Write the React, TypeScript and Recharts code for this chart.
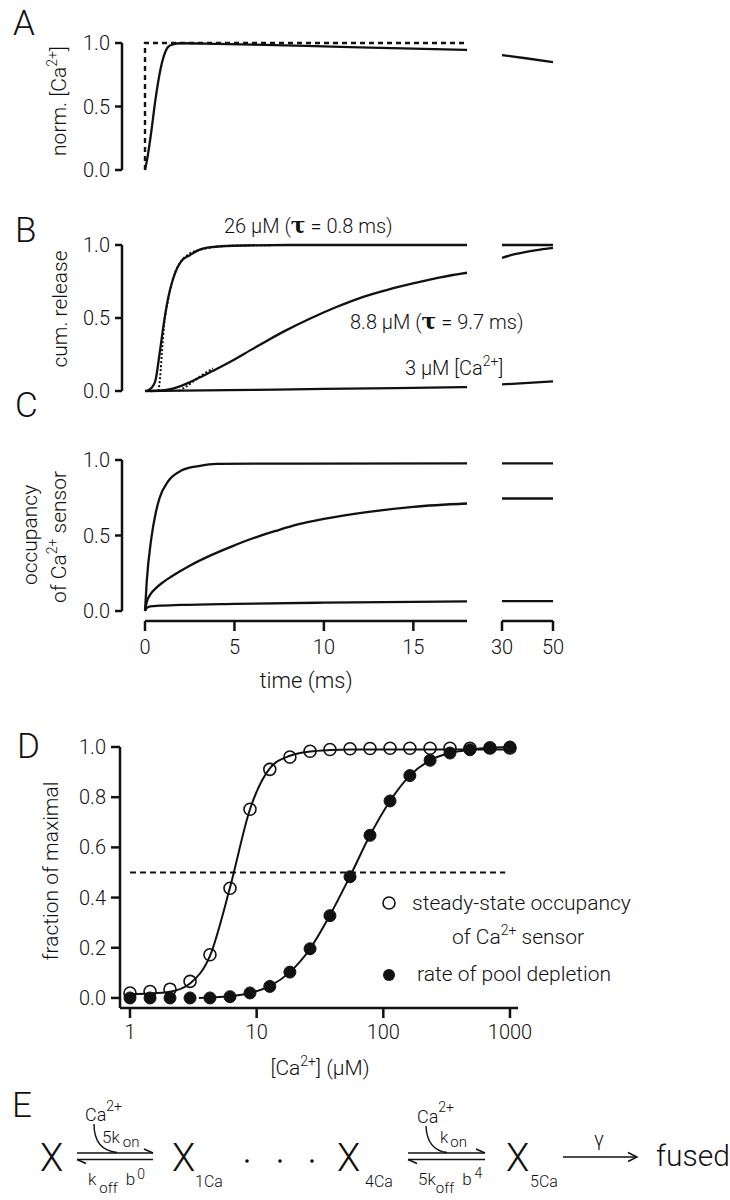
import React from "react";
import { LineChart, Line, XAxis, YAxis } from "recharts";

const W = 730;
const H = 1200;
const FONT = "Roboto, 'Liberation Sans', Arial, sans-serif";
const INK = "#111";

// ---------- A: normalised [Ca2+]
const aStepT = [0, 0, 18];
const aStepV = [0, 1, 1];
const aT = [0, 0.14, 0.34, 0.58, 0.82, 1.06, 1.3, 1.55, 2, 4, 6, 9, 12, 15, 18];
const aV = [0, 0.1, 0.29, 0.55, 0.76, 0.9, 0.97, 0.99, 0.998, 0.993, 0.987, 0.977, 0.966, 0.955, 0.945];
const aBreakT = [30, 40, 50];
const aBreakV = [0.905, 0.878, 0.85];

// ---------- B: cumulative release
const b26T = [0.1, 0.35, 0.58, 0.82, 1.06, 1.3, 1.55, 1.79, 2.03, 2.5, 3, 3.7, 4.9, 8, 18];
const b26V = [0, 0.02, 0.07, 0.26, 0.47, 0.64, 0.76, 0.84, 0.89, 0.93, 0.965, 0.985, 0.995, 1, 1];
const b26FitT = [0.75, 0.85, 0.95, 1.06, 1.3, 1.55, 2.03, 3, 4.9, 8];
const b26FitV = [0, 0.1, 0.27, 0.44, 0.63, 0.76, 0.89, 0.965, 0.995, 1];
const b88T = [0.3, 1, 1.55, 2.03, 2.5, 3.26, 4, 5, 5.9, 6.9, 7.8, 9.3, 10.7, 12.2, 13.6, 15.1, 16.5, 18];
const b88V = [0, 0.004, 0.016, 0.035, 0.06, 0.105, 0.15, 0.215, 0.28, 0.35, 0.41, 0.5, 0.575, 0.645, 0.695, 0.74, 0.778, 0.81];
const b88FitT = [1.9, 2.3, 2.7, 3.2, 3.8];
const b88FitV = [0, 0.03, 0.065, 0.11, 0.155];
const b3T = [0, 2, 6, 10, 14, 18];
const b3V = [0, 0.002, 0.008, 0.014, 0.02, 0.027];
const b26BreakT = [30, 50];
const b26BreakV = [1, 1];
const b88BreakT = [30, 35, 40, 45, 50];
const b88BreakV = [0.912, 0.937, 0.955, 0.969, 0.98];
const b3BreakT = [30, 50];
const b3BreakV = [0.045, 0.066];

// ---------- C: sensor occupancy
const c26T = [0, 0.1, 0.34, 0.6, 0.82, 1.3, 2.03, 3, 4, 18];
const c26V = [0, 0.2, 0.47, 0.65, 0.75, 0.86, 0.93, 0.96, 0.975, 0.978];
const c88T = [0, 0.1, 0.3, 0.6, 1, 1.5, 2.5, 3.7, 4.9, 6, 7.3, 8.6, 10, 12.4, 15, 18];
const c88V = [0, 0.06, 0.11, 0.15, 0.19, 0.23, 0.3, 0.37, 0.43, 0.48, 0.53, 0.575, 0.61, 0.655, 0.69, 0.712];
const c3T = [0, 0.1, 0.3, 0.8, 2, 5, 10, 15, 18];
const c3V = [0, 0.02, 0.03, 0.035, 0.04, 0.047, 0.055, 0.061, 0.064];
const cBreakT = [30, 50];
const c26BreakV = [0.978, 0.978];
const c88BreakV = [0.745, 0.745];
const c3BreakV = [0.065, 0.065];
const timeTicks = [0, 5, 10, 15];
const breakTicks = [30, 50];

// ---------- D: dose response
const dConc = [1, 1.44, 2.07, 2.98, 4.28, 6.16, 8.86, 12.7, 18.3, 26.4, 37.9, 54.6, 78.5, 113, 162, 234, 336, 483, 695, 1000];
const dOcc = [0.02, 0.026, 0.035, 0.066, 0.172, 0.437, 0.752, 0.911, 0.96, 0.983, 0.99, 0.993, 0.994, 0.995, 0.995, 0.995, 0.995, 0.995, 0.996, 0.996];
const dOccFit = [0.016, 0.018, 0.025, 0.058, 0.168, 0.44, 0.752, 0.915, 0.965, 0.982, 0.988, 0.99, 0.99, 0.99, 0.99, 0.99, 0.99, 0.99, 0.99, 0.99];
const dDep = [0, 0, 0, 0, 0, 0.005, 0.02, 0.046, 0.103, 0.196, 0.328, 0.483, 0.648, 0.785, 0.886, 0.947, 0.976, 0.989, 0.997, 1];
const dDepFitC = [3.5, 4.28, 6.16, 8.86, 12.7, 18.3, 26.4, 37.9, 54.6, 78.5, 113, 162, 234, 336, 483, 695, 1000];
const dDepFitV = [0, 0.002, 0.007, 0.02, 0.047, 0.103, 0.196, 0.33, 0.485, 0.648, 0.785, 0.886, 0.947, 0.976, 0.989, 0.997, 1];
const dHalfC = [1, 917];
const dHalfV = [0.5, 0.5];
const concTicks = [1, 10, 100, 1000];
const fracTicks = [0, 0.2, 0.4, 0.6, 0.8, 1];

const zip = (t: number[], v: number[]) => t.map((x, i) => ({ t: x, v: v[i] }));

type S = { data: { t: number; v: number }[]; dash?: string; linear?: boolean; w?: number };

const drawLines = (series: S[]) =>
  series.map((s, i) => (
    <Line
      key={i}
      data={s.data}
      dataKey="v"
      type={s.linear ? "linear" : "monotone"}
      stroke={INK}
      strokeWidth={s.w ?? 2.3}
      strokeDasharray={s.dash}
      dot={false}
      activeDot={false}
      isAnimationActive={false}
    />
  ));

const tickStyle = { fill: INK, fontSize: 20, fontFamily: FONT, fontWeight: 300 };
const axisStroke = { stroke: INK, strokeWidth: 2.5 };
const layer: React.CSSProperties = { position: "absolute", left: 0, top: 0 };

const YW = 60;
const AXIS_X = 122;
const T0 = 145;
const T18 = 467;
const BR0 = 502;
const BR1 = 553;

function Trace({ y0, y1, series }: { y0: number; y1: number; series: S[] }) {
  return (
    <div style={layer}>
      <LineChart width={W} height={H} margin={{ top: y0, bottom: H - y1, left: AXIS_X - YW, right: W - T18 }}>
        <XAxis type="number" dataKey="t" domain={[0, 18]} padding={{ left: T0 - AXIS_X, right: 0 }} hide />
        <YAxis
          type="number"
          domain={[0, 1]}
          ticks={[0, 0.5, 1]}
          width={YW}
          tickFormatter={(v: number) => v.toFixed(1)}
          tick={tickStyle}
          tickSize={7}
          tickMargin={5}
          axisLine={axisStroke}
          tickLine={axisStroke}
        />
        {drawLines(series)}
      </LineChart>
    </div>
  );
}

function Broken({ y0, y1, series }: { y0: number; y1: number; series: S[] }) {
  return (
    <div style={layer}>
      <LineChart width={W} height={H} margin={{ top: y0, bottom: H - y1, left: BR0, right: W - BR1 }}>
        <XAxis type="number" dataKey="t" domain={[30, 50]} hide />
        <YAxis type="number" domain={[0, 1]} hide />
        {drawLines(series)}
      </LineChart>
    </div>
  );
}

function TimeAxis({ x0, x1, domain, ticks }: { x0: number; x1: number; domain: number[]; ticks: number[] }) {
  const xh = 40;
  return (
    <div style={layer}>
      <LineChart width={W} height={H} margin={{ top: 460, bottom: H - 621 - xh, left: x0, right: W - x1 }}>
        <XAxis
          type="number"
          dataKey="t"
          domain={domain}
          ticks={ticks}
          height={xh}
          tick={tickStyle}
          tickSize={10}
          tickMargin={9}
          axisLine={axisStroke}
          tickLine={axisStroke}
        />
        <YAxis type="number" domain={[0, 1]} hide />
        <Line data={zip(domain, [0.5, 0.5])} dataKey="v" stroke="none" dot={false} activeDot={false} isAnimationActive={false} />
      </LineChart>
    </div>
  );
}

function DoseChart() {
  const xh = 50;
  return (
    <div style={layer}>
      <LineChart width={W} height={H} margin={{ top: 747, bottom: H - 1008 - xh, left: 120 - YW, right: W - 518 }}>
        <XAxis
          type="number"
          dataKey="t"
          scale="log"
          domain={[0.834, 1157]}
          ticks={concTicks}
          height={xh}
          tick={tickStyle}
          tickSize={10}
          tickMargin={7}
          axisLine={axisStroke}
          tickLine={axisStroke}
        />
        <YAxis
          type="number"
          domain={[-0.04, 1]}
          ticks={fracTicks}
          width={YW}
          tickFormatter={(v: number) => v.toFixed(1)}
          tick={tickStyle}
          tickSize={9}
          tickMargin={5}
          axisLine={axisStroke}
          tickLine={axisStroke}
        />
        {drawLines([
          { data: zip(dHalfC, dHalfV), dash: "6 4", linear: true, w: 2.2 },
          { data: zip(dConc, dOccFit), w: 2 },
          { data: zip(dDepFitC, dDepFitV), w: 2 },
        ])}
        <Line
          data={zip(dConc, dOcc)}
          dataKey="v"
          stroke="none"
          dot={{ r: 6, fill: "none", stroke: INK, strokeWidth: 1.6 }}
          activeDot={false}
          isAnimationActive={false}
        />
        <Line
          data={zip(dConc, dDep)}
          dataKey="v"
          stroke="none"
          dot={{ r: 6, fill: INK, stroke: INK, strokeWidth: 1 }}
          activeDot={false}
          isAnimationActive={false}
        />
      </LineChart>
    </div>
  );
}

function Sup({ children, dy = -9, size = 14 }: { children: React.ReactNode; dy?: number; size?: number }) {
  return (
    <tspan dy={dy} fontSize={size}>
      {children}
    </tspan>
  );
}

function Harpoons({ x0, x1, y }: { x0: number; x1: number; y: number }) {
  return (
    <g stroke={INK} strokeWidth={1.4} fill="none">
      <line x1={x0} y1={y} x2={x1} y2={y} />
      <line x1={x1} y1={y} x2={x1 - 9} y2={y - 4} />
      <line x1={x0} y1={y + 6.5} x2={x1} y2={y + 6.5} />
      <line x1={x0} y1={y + 6.5} x2={x0 + 9} y2={y + 10.5} />
    </g>
  );
}

function Overlay() {
  const t = { fontFamily: FONT, fontWeight: 300, fill: INK } as const;
  const rot = (x: number, y: number) => `rotate(-90 ${x} ${y})`;
  const tau = { fontFamily: "'DejaVu Serif', serif", fontWeight: 700, fontSize: 22 } as const;
  return (
    <svg width={W} height={H} style={layer}>
      {/* panel letters */}
      <text {...t} x={13} y={35} fontSize={35}>A</text>
      <text {...t} x={15} y={242} fontSize={35}>B</text>
      <text {...t} x={15} y={417} fontSize={35}>C</text>
      <text {...t} x={17} y={758} fontSize={35}>D</text>
      <text {...t} x={12} y={1117} fontSize={35}>E</text>

      {/* axis titles */}
      <text {...t} x={66} y={101} fontSize={21} textAnchor="middle" transform={rot(66, 101)}>
        norm. [Ca<Sup>2+</Sup><tspan dy={9}>]</tspan>
      </text>
      <text {...t} x={67} y={309} fontSize={21} textAnchor="middle" transform={rot(67, 309)}>
        cum. release
      </text>
      <text {...t} x={37} y={535} fontSize={21} textAnchor="middle" transform={rot(37, 535)}>
        occupancy
      </text>
      <text {...t} x={66} y={537} fontSize={21} textAnchor="middle" transform={rot(66, 537)}>
        of Ca<Sup>2+</Sup><tspan dy={9}> sensor</tspan>
      </text>
      <text {...t} x={58} y={871} fontSize={21} textAnchor="middle" transform={rot(58, 871)}>
        fraction of maximal
      </text>
      <text {...t} x={306} y={688} fontSize={22} textAnchor="middle">time (ms)</text>
      <text {...t} x={320} y={1075} fontSize={21} textAnchor="middle">
        [Ca<Sup>2+</Sup><tspan dy={9}>] (µM)</tspan>
      </text>

      {/* panel B annotations */}
      <text {...t} x={224} y={233} fontSize={20}>
        26 µM (<tspan {...tau}>τ</tspan> = 0.8 ms)
      </text>
      <text {...t} x={350} y={329} fontSize={20}>
        8.8 µM (<tspan {...tau}>τ</tspan> = 9.7 ms)
      </text>
      <text {...t} x={405} y={375} fontSize={20}>
        3 µM [Ca<Sup>2+</Sup><tspan dy={9}>]</tspan>
      </text>

      {/* panel D legend */}
      <circle cx={389} cy={903} r={6} fill="none" stroke={INK} strokeWidth={1.6} />
      <text {...t} x={412} y={910} fontSize={21}>steady-state occupancy</text>
      <text {...t} x={452} y={944} fontSize={21}>
        of Ca<Sup>2+</Sup><tspan dy={9}> sensor</tspan>
      </text>
      <circle cx={389} cy={975} r={6} fill={INK} />
      <text {...t} x={417} y={981} fontSize={21}>rate of pool depletion</text>

      {/* panel E scheme */}
      <text {...t} x={40} y={1171} fontSize={38}>X</text>
      <text {...t} x={85} y={1121} fontSize={18}>Ca<Sup dy={-10}>2+</Sup></text>
      <path d="M 94 1124 Q 94 1150 117 1152.5" fill="none" stroke={INK} strokeWidth={1.4} />
      <text {...t} x={102} y={1143} fontSize={17}>5k<tspan dx={3} dy={4} fontSize={15}>on</tspan></text>
      <Harpoons x0={77} x1={153} y={1153} />
      <text {...t} x={88} y={1185} fontSize={17}>k<tspan dx={3} dy={8} fontSize={15}>off</tspan><tspan dx={8} dy={-8}>b</tspan><tspan dx={2} dy={-6} fontSize={14}>0</tspan></text>

      <text {...t} x={172} y={1171} fontSize={38}>X</text>
      <text {...t} x={195} y={1187} fontSize={16}>1Ca</text>
      <circle cx={247} cy={1161} r={1.8} fill={INK} />
      <circle cx={280} cy={1161} r={1.8} fill={INK} />
      <circle cx={312} cy={1161} r={1.8} fill={INK} />

      <text {...t} x={337} y={1171} fontSize={38}>X</text>
      <text {...t} x={365} y={1187} fontSize={16}>4Ca</text>
      <text {...t} x={417} y={1123} fontSize={18}>Ca<Sup dy={-11}>2+</Sup></text>
      <path d="M 426 1126 Q 427 1150 447 1152.5" fill="none" stroke={INK} strokeWidth={1.4} />
      <text {...t} x={440} y={1143} fontSize={17}>k<tspan dx={2} dy={4} fontSize={15}>on</tspan></text>
      <Harpoons x0={408} x1={485} y={1153} />
      <text {...t} x={418} y={1185} fontSize={17}>5k<tspan dy={8} fontSize={15}>off</tspan><tspan dx={8} dy={-8}>b</tspan><tspan dx={3} dy={-7} fontSize={14}>4</tspan></text>

      <text {...t} x={506} y={1171} fontSize={38}>X</text>
      <text {...t} x={530} y={1187} fontSize={16}>5Ca</text>
      <g stroke={INK} strokeWidth={1.4} fill="none">
        <line x1={563} y1={1157} x2={637} y2={1157} />
        <polyline points="628,1152.5 637,1157 628,1161.5" />
      </g>
      <text {...t} x={599} y={1146} fontSize={20} textAnchor="middle">γ</text>
      <text {...t} x={656} y={1166} fontSize={30}>fused</text>
    </svg>
  );
}

export default function App() {
  return (
    <div style={{ position: "absolute", left: 0, top: 0, width: W, height: H, background: "#fff" }}>
      <Trace
        y0={43}
        y1={170}
        series={[
          { data: zip(aStepT, aStepV), dash: "5 4", linear: true, w: 2.4 },
          { data: zip(aT, aV) },
        ]}
      />
      <Broken y0={43} y1={170} series={[{ data: zip(aBreakT, aBreakV) }]} />

      <Trace
        y0={245}
        y1={391}
        series={[
          { data: zip(b3T, b3V) },
          { data: zip(b88T, b88V) },
          { data: zip(b26T, b26V) },
          { data: zip(b26FitT, b26FitV), dash: "2 2", w: 2 },
          { data: zip(b88FitT, b88FitV), dash: "2 2", w: 2 },
        ]}
      />
      <Broken
        y0={245}
        y1={391}
        series={[
          { data: zip(b26BreakT, b26BreakV) },
          { data: zip(b88BreakT, b88BreakV) },
          { data: zip(b3BreakT, b3BreakV) },
        ]}
      />

      <Trace
        y0={460}
        y1={611}
        series={[{ data: zip(c26T, c26V) }, { data: zip(c88T, c88V) }, { data: zip(c3T, c3V) }]}
      />
      <Broken
        y0={460}
        y1={611}
        series={[
          { data: zip(cBreakT, c26BreakV) },
          { data: zip(cBreakT, c88BreakV) },
          { data: zip(cBreakT, c3BreakV) },
        ]}
      />
      <TimeAxis x0={T0} x1={T18} domain={[0, 18]} ticks={timeTicks} />
      <TimeAxis x0={BR0} x1={BR1} domain={[30, 50]} ticks={breakTicks} />

      <DoseChart />
      <Overlay />
    </div>
  );
}
